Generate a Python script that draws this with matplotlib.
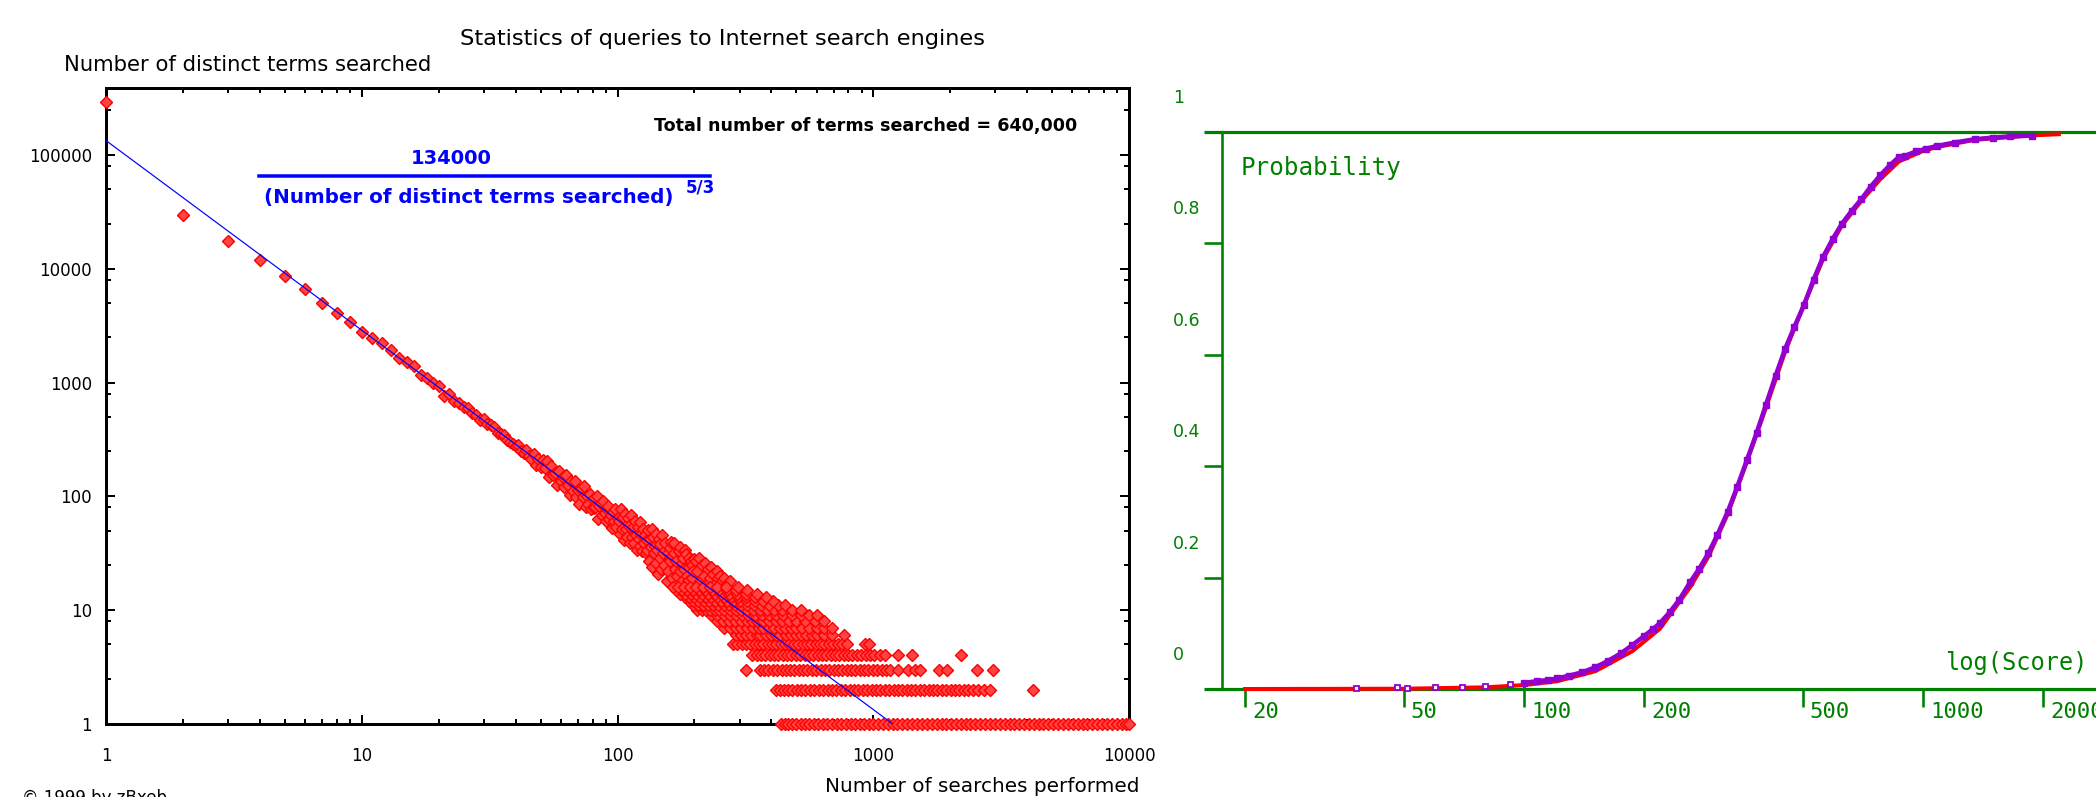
import matplotlib
matplotlib.use("Agg")
import matplotlib.pyplot as plt
import matplotlib.transforms as mtransforms
import numpy as np

# ---------------- left panel: search statistics ----------------
# terms searched 1..45 times: number of distinct terms
low_searches = list(range(1, 46))
low_terms = [292000, 29700, 17500, 11900, 8650, 6600, 5040, 4060, 3390, 2770,
             2480, 2215, 1930, 1655, 1530, 1400, 1167, 1100, 990, 935,
             760, 800, 690, 660, 610, 600, 540, 520, 470, 480,
             430, 420, 405, 360, 350, 345, 310, 300, 290, 275,
             285, 250, 240, 255, 225]

mid_searches = list(range(46, 101))
mid_terms = [215, 236, 190, 214, 181, 210, 179, 206, 148, 185,
             155, 162, 126, 168, 136, 149, 121, 153, 127, 102,
             137, 111, 137, 99, 113, 86, 116, 99, 124, 80,
             100, 86, 105, 78, 95, 79, 81, 100, 63, 82,
             88, 69, 92, 72, 61, 77, 82, 63, 69, 53,
             73, 61, 77, 54, 65]

cloud_searches = [101, 102, 103, 104, 105, 106, 107, 108, 109, 110,
                  111, 112, 113, 114, 115, 116, 117, 118, 119, 120,
                  121, 122, 123, 124, 125, 126, 127, 128, 129, 130,
                  131, 132, 133, 134, 135, 136, 137, 138, 139, 140,
                  141, 142, 143, 144, 145, 146, 147, 148, 149, 150,
                  152, 153, 154, 156, 157, 158, 160, 161, 162, 163,
                  164, 166, 167, 168, 170, 171, 174, 175, 176, 178,
                  179, 180, 182, 183, 186, 187, 188, 190, 191, 194,
                  195, 196, 198, 199, 202, 205, 208, 211, 214, 217,
                  220, 223, 226, 229, 232, 236, 240, 244, 248, 252,
                  257, 262, 268, 275]
cloud_terms = [61, 47, 77, 52, 66, 41, 70, 52, 44, 64,
               55, 39, 69, 44, 54, 39, 61, 46, 34, 54,
               42, 59, 37, 47, 33, 52, 39, 46, 32, 41,
               34, 51, 27, 42, 36, 52, 24, 44, 32, 37,
               26, 47, 34, 21, 42, 29, 38, 23, 46, 32,
               25, 34, 39, 18, 22, 32, 27, 35, 40, 30,
               19, 32, 39, 23, 27, 20, 33, 36, 22, 18,
               26, 29, 23, 34, 31, 20, 18, 24, 29, 27,
               25, 19, 22, 28, 27, 22, 29, 18, 25, 20,
               26, 17, 23, 19, 24, 21, 17, 22, 19, 20,
               18, 19, 17, 18]

# terms with few distinct entries: search counts for each term count
row_1 = [436, 450, 465, 480, 500, 520, 540, 560, 585, 610, 635, 660, 690, 720,
         750, 780, 815, 850, 885, 920, 960, 1000, 1045, 1090, 1140, 1190, 1240,
         1300, 1360, 1420, 1480, 1550, 1620, 1690, 1770, 1850, 1930, 2020, 2110,
         2200, 2300, 2400, 2510, 2620, 2740, 2860, 2990, 3120, 3260, 3410, 3560,
         3720, 3890, 4060, 4240, 4430, 4630, 4840, 5060, 5290, 5520, 5770, 6030,
         6300, 6580, 6880, 7190, 7510, 7850, 8200, 8570, 8950, 9350, 9770, 10000]
row_2 = [417, 432, 448, 465, 483, 502, 522, 543, 565, 588, 612, 637, 663, 690,
         718, 747, 777, 808, 841, 875, 910, 947, 985, 1025, 1066, 1109, 1154,
         1200, 1249, 1299, 1351, 1406, 1462, 1521, 1583, 1646, 1713, 1782, 1854,
         1928, 2006, 2087, 2171, 2258, 2350, 2445, 2560, 2700, 2850, 4200]
row_3 = [317, 360, 374, 389, 405, 421, 438, 455, 473, 492, 512, 532, 553, 575,
         598, 622, 647, 673, 700, 728, 757, 787, 819, 851, 885, 921, 958, 996,
         1036, 1078, 1120, 1160, 1245, 1370, 1450, 1530, 1800, 1940, 2540, 2930]
row_4 = [337, 350, 364, 379, 394, 410, 426, 443, 461, 479, 498, 518, 539, 560,
         583, 606, 630, 655, 681, 708, 737, 766, 797, 829, 862, 897, 933, 970,
         1010, 1065, 1115, 1250, 1420, 2200]
row_5 = [283, 294, 306, 318, 331, 344, 358, 372, 387, 402, 418, 435, 452, 470,
         489, 509, 529, 550, 572, 595, 619, 644, 670, 697, 725, 755, 790, 930, 960]
row_6 = [290, 305, 318, 333, 350, 362, 380, 398, 415, 432, 455, 478, 500, 520,
         545, 575, 605, 640, 690, 770]
row_7 = [262, 275, 290, 305, 322, 340, 356, 372, 390, 410, 430, 452, 475, 500,
         528, 560, 600, 640, 690]
row_8 = [245, 258, 272, 288, 303, 320, 336, 352, 370, 392, 415, 440, 468, 500,
         540, 590, 640]
row_9 = [232, 246, 260, 275, 290, 307, 325, 345, 367, 390, 415, 445, 480, 520,
         560, 600]
row_10 = [205, 214, 222, 231, 240, 250, 262, 275, 290, 305, 322, 340, 362, 385,
          410, 440, 480, 520]
row_11 = [197, 206, 215, 225, 236, 248, 260, 273, 288, 304, 322, 342, 365, 392,
          425, 450]
row_12 = [190, 198, 207, 217, 228, 240, 253, 267, 282, 300, 320, 345, 372, 405]
row_13 = [183, 191, 200, 210, 221, 233, 246, 260, 277, 296, 318, 345, 380]
row_14 = [176, 184, 193, 203, 214, 226, 240, 255, 272, 292, 318, 350]
row_15 = [170, 178, 187, 197, 208, 220, 234, 250, 268, 290, 320]
row_16 = [165, 173, 182, 192, 203, 215, 229, 245, 265, 295]

# power-law fit quoted on the chart
FIT_COEF = 134000
FIT_EXP = 5 / 3
TOTAL_TERMS = "640,000"

# ---------------- right panel: score distribution ----------------
fit_score = [20, 50, 80, 100, 121, 151, 187, 219, 261, 290, 324, 362, 404, 451,
             503, 562, 626, 700, 781, 870, 1000, 1085, 1350, 1880, 2190]
fit_prob = [0.0, 0.0005, 0.003, 0.007, 0.014, 0.032, 0.068, 0.108, 0.183, 0.238,
            0.314, 0.408, 0.505, 0.605, 0.69, 0.772, 0.832, 0.876, 0.915, 0.947,
            0.966, 0.973, 0.986, 0.994, 0.996]

obs_tail_score = [38, 48, 51, 60, 70, 80, 92]
obs_tail_prob = [0.002, 0.003, 0.002, 0.003, 0.004, 0.006, 0.009]
obs_score = [100, 108, 115, 121, 130, 140, 151, 162, 175, 187, 200, 210, 219,
             232, 245, 261, 275, 290, 305, 324, 342, 362, 383, 404, 427, 451,
             476, 503, 532, 562, 594, 626, 662, 700, 740, 781, 825, 870, 900,
             960, 1020, 1085, 1200, 1350, 1500, 1650, 1880]
obs_prob = [0.011, 0.014, 0.016, 0.019, 0.024, 0.030, 0.039, 0.050, 0.064, 0.079,
            0.095, 0.107, 0.118, 0.138, 0.160, 0.192, 0.216, 0.244, 0.276, 0.318,
            0.362, 0.411, 0.460, 0.510, 0.562, 0.610, 0.650, 0.689, 0.735, 0.776,
            0.808, 0.835, 0.858, 0.879, 0.902, 0.922, 0.940, 0.955, 0.957, 0.965,
            0.970, 0.975, 0.981, 0.987, 0.990, 0.992, 0.9937]

score_ticks = [20, 50, 100, 200, 500, 1000, 2000]
prob_ticks = [0.2, 0.4, 0.6, 0.8]
prob_labels = ["0", "0.2", "0.4", "0.6", "0.8", "1"]

# ---------------- figure ----------------
W, H, DPI = 2096, 797, 100
PT = 72 / DPI  # points per pixel
fig = plt.figure(figsize=(W / DPI, H / DPI), dpi=DPI)
fig.patch.set_facecolor("white")


def fx(px):
    return px / W


def fy(py):
    return 1 - py / H


BLACK = "#000000"
RED = "#ff0000"
PINK = "#ff4242"
BLUE = "#0000ff"
GREEN = "#008000"
PURPLE = "#9400d0"
sans = ["DejaVu Sans"]
mono = ["DejaVu Sans Mono"]

# ---- left axes ----
axL = fig.add_axes([fx(106), fy(724), fx(1129) - fx(106), fy(88) - fy(724)])
axL.set_xscale("log")
axL.set_yscale("log")
axL.set_xlim(1, 10000)
axL.set_ylim(1, 10 ** ((724 - 88) / 113.8))
for sp in axL.spines.values():
    sp.set_linewidth(3 * PT)
    sp.set_color(BLACK)
    sp.set_zorder(2)

axL.set_xticks([1, 10, 100, 1000, 10000])
axL.set_xticklabels(["1", "10", "100", "1000", "10000"])
axL.set_xticks([m * 10 ** k for k in range(4) for m in range(2, 10)], minor=True)
axL.set_yticks([1, 10, 100, 1000, 10000, 100000])
axL.set_yticklabels(["1", "10", "100", "1000", "10000", "100000"])
axL.set_yticks([m * 10 ** k for k in range(6) for m in (2.5, 5, 8)
                if m * 10 ** k < 3.8e5], minor=True)
axL.yaxis.set_minor_formatter(plt.NullFormatter())
axL.xaxis.set_minor_formatter(plt.NullFormatter())
axL.tick_params(which="both", direction="in", top=True, right=True,
                color=BLACK, width=2 * PT, labelsize=12, labelcolor=BLACK)
axL.tick_params(which="major", length=9 * PT)
axL.tick_params(which="minor", length=5 * PT)
axL.tick_params(axis="x", which="major", pad=16.5)
axL.tick_params(axis="y", which="major", pad=10)

mk = dict(marker="D", ms=5.7, mfc=PINK, mec=RED, mew=1.0, ls="none",
          clip_on=False, zorder=3)
axL.plot(low_searches, low_terms, **mk)
axL.plot(mid_searches, mid_terms, **mk)
axL.plot(cloud_searches, cloud_terms, **mk)
rows = [row_1, row_2, row_3, row_4, row_5, row_6, row_7, row_8,
        row_9, row_10, row_11, row_12, row_13, row_14, row_15, row_16]
for count, xs in enumerate(rows, start=1):
    axL.plot(xs, [count] * len(xs), **mk)

fit_x = np.logspace(0, np.log10(FIT_COEF) / FIT_EXP, 200)
axL.plot(fit_x, FIT_COEF / fit_x ** FIT_EXP, color=BLUE, lw=1.2 * PT, zorder=4)

fig.text(fx(722), fy(39), "Statistics of queries to Internet search engines",
         ha="center", va="center", fontsize=16.2, family=sans)
fig.text(fx(64), fy(65), "Number of distinct terms searched",
         ha="left", va="center", fontsize=15.2, family=sans)
fig.text(fx(982), fy(787), "Number of searches performed",
         ha="center", va="center", fontsize=14.4, family=sans)
fig.text(fx(22), fy(789), "\u00a9 1999 by zBxeb", ha="left", va="top",
         fontsize=12, family=sans)
fig.text(fx(1077), fy(126), f"Total number of terms searched = {TOTAL_TERMS}",
         ha="right", va="center", fontsize=12.6, fontweight="bold", family=sans)
fig.text(fx(451), fy(158), f"{FIT_COEF}", ha="center", va="center",
         fontsize=14, fontweight="bold", color=BLUE, family=sans)
fig.add_artist(plt.Line2D([fx(259), fx(710)], [fy(175.5), fy(175.5)],
                          color=BLUE, lw=3.5 * PT))
fig.text(fx(264), fy(198), "(Number of distinct terms searched)", ha="left",
         va="center", fontsize=14.3, fontweight="bold", color=BLUE, family=sans)
fig.text(fx(686), fy(188), "5/3", ha="left", va="center", fontsize=12,
         fontweight="bold", color=BLUE, family=sans)

# ---- right axes ----
xr0 = 100 * 10 ** ((1222 - 1524) / 399)
xr1 = 100 * 10 ** ((2096 - 1524) / 399)
axR = fig.add_axes([fx(1222), fy(689), fx(2096) - fx(1222), fy(132) - fy(689)])
axR.set_xscale("log")
axR.set_xlim(xr0, xr1)
axR.set_ylim(0, 1)
axR.spines["right"].set_visible(False)
axR.spines["left"].set_linewidth(2.6 * PT)
axR.spines["top"].set_linewidth(3.2 * PT)
axR.spines["bottom"].set_linewidth(3.2 * PT)
for sp in ("left", "top", "bottom"):
    axR.spines[sp].set_color(GREEN)
    axR.spines[sp].set_zorder(1)

axR.set_xticks(score_ticks)
axR.set_xticklabels([])
axR.xaxis.set_minor_locator(plt.NullLocator())
axR.set_yticks(prob_ticks)
axR.set_yticklabels([])
axR.tick_params(which="both", direction="out", length=18 * PT, width=2.6 * PT,
                color=GREEN)

ytr = axR.get_yaxis_transform()
for yv in (0, 1):
    axR.plot([-18 / 874, 0], [yv, yv], transform=ytr, color=GREEN,
             lw=3.2 * PT, clip_on=False, solid_capstyle="butt")

xtr = axR.get_xaxis_transform()
# taller mark at 100
axR.plot([100, 100], [0, 5 / 557], transform=xtr, color=GREEN, lw=3 * PT,
         clip_on=False)

lab_off = mtransforms.offset_copy(ytr, fig=fig, x=0, y=34 * PT, units="points")
for yv, lab in zip([0, 0.2, 0.4, 0.6, 0.8, 1.0], prob_labels):
    axR.text(-49 / 874, yv, lab, transform=lab_off, ha="left", va="center",
             fontsize=12.5, color=GREEN, family=sans)

xlab_tr = mtransforms.offset_copy(xtr, fig=fig, x=7 * PT, y=-23 * PT,
                                  units="points")
for xv in score_ticks:
    axR.text(xv, 0, str(xv), transform=xlab_tr, ha="left", va="center",
             fontsize=16, color=GREEN, family=mono, clip_on=False)

fig.text(fx(1241), fy(168), "Probability", ha="left", va="center",
         fontsize=17.5, color=GREEN, family=mono)
fig.text(fx(2088), fy(663), "log(Score)", ha="right", va="center",
         fontsize=17, color=GREEN, family=mono)

axR.plot(fit_score, fit_prob, color=RED, lw=4.0 * PT, zorder=3, clip_on=False)
axR.plot(obs_score, obs_prob, color=PURPLE, lw=4.6 * PT, marker="s", ms=4,
         mfc=PURPLE, mec=PURPLE, zorder=4, clip_on=False)
axR.plot(obs_tail_score, obs_tail_prob, ls="none", marker="s", ms=3.6,
         mfc="white", mec=PURPLE, mew=1.3, zorder=4, clip_on=False)

fig.savefig("out.png", dpi=DPI, facecolor="white")
